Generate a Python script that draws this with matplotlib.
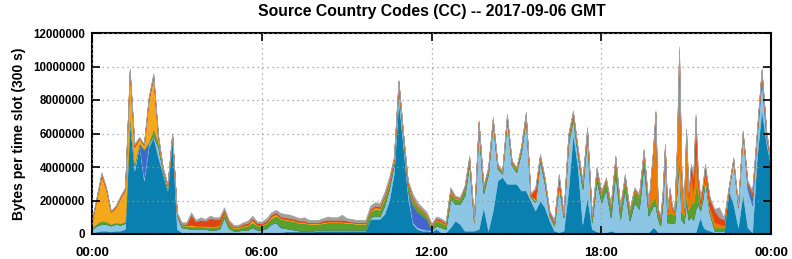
import numpy as np
import matplotlib
matplotlib.use("Agg")
import matplotlib.pyplot as plt
from matplotlib.ticker import FuncFormatter

# sample times in minutes after 00:00 (10-min samples, 5-min samples 19:50-21:35)
minutes = np.concatenate([np.arange(0, 1190, 10), np.arange(1190, 1300, 5), np.arange(1300, 1441, 10)])

# values in millions of bytes per time slot
dark_blue = [0.1,0.15,0.2,0.2,0.15,0.2,0.2,0.3,6.7,3.8,5.3,3.2,5.2,5.8,4.6,3.6,2.6,5.8,0.3,0.1,0.1,0.1,0.1,0.1,0.1,
             0.1,0.1,0.1,0.1,0.1,0.1,0.1,0.1,0.1,0.1,0.1,0.1,0.1,0.1,0.1,0.1,0.15,0.15,0.15,0.15,0.15,0.15,0.15,0.2,
             0.2,0.2,0.2,0.2,0.2,0.2,0.2,0.2,0.2,0.2,0.9,0.9,0.9,1.2,2.0,3.6,8.0,5.2,2.2,0.6,0.3,0.2,0.2,0.15,
             0.3,0.1,0.1,0.4,0.8,0.6,0.2,0.2,0.2,0.3,1.6,0.2,1.4,3.2,3.4,3.0,3.0,3.0,2.6,2.6,2.0,1.4,2.0,1.6,
             0.8,0.2,0.1,0.2,2.6,6.0,4.0,0.6,2.2,0.3,0.15,0.1,0.1,0.2,0.1,0.1,0.1,0.1,0.1,0.1,0.1,0.1,
             0.4,0.3,0.1,0.1,0.1,0.1,0.1,0.05,0.05,0.05,0.05,0.1,0.05,0.05,0.1,0.05,0.05,0.05,0.1,0.6,1.0,0.5,
             0.3,0.2,0.1,0.1,0.1,2.6,1.8,0.4,2.4,0.4,0.1,4.6,7.4,5.4,4.0]
light_blue = [0.2,0.35,0.4,0.4,0.35,0.4,0.35,0.35,0.3,0.3,0.1,0.2,0.2,0.1,0.6,0.2,0.1,0.1,0.8,0.3,0.25,0.2,0.2,0.2,0.2,
              0.15,0.15,0.2,0.9,0.25,0.1,0.1,0.15,0.15,0.3,0.15,0.15,0.25,0.5,0.6,0.3,0.2,0.15,0.1,0.05,0.05,0.05,0.05,0.05,
              0.05,0.05,0.05,0.05,0.05,0.05,0.05,0.05,0.05,0.05,0.1,0.2,0.15,0.5,0.7,0.5,0.8,0.5,0.4,0.1,0.1,0.1,0.05,0.1,
              0.2,0.3,0.2,1.7,1.0,1.2,2.1,4.0,0.5,6.0,0.85,3.4,5.2,0.7,0.2,3.8,1.1,0.7,2.3,4.3,0.2,0.5,2.4,1.4,
              0.3,0.3,2.8,0.8,2.8,0.9,0.7,2.1,3.6,0.4,3.1,1.8,2.6,0.8,3.6,0.8,2.6,0.7,1.8,1.4,4.1,1.0,
              1.3,1.4,0.8,0.4,1.8,4.6,0.6,0.6,0.6,0.6,2.5,4.4,0.8,0.6,1.8,0.8,1.0,0.8,1.4,1.2,0.4,1.6,
              2.9,1.0,0.1,0.1,0.1,0.05,2.6,1.2,3.6,2.3,1.6,1.2,1.8,0.3,0.1]
royal_blue = [0,0,0,0,0,0,0,0,0,0,0,1.6,0,0,0,0,0,0,0,0,0,0,0,0,0,
              0,0,0,0,0,0,0,0,0,0,0,0,0,0,0,0,0,0,0,0,0,0,0,0,
              0,0,0,0,0,0,0,0,0,0,0,0,0,0,0,0,0,0,0,1.0,0.9,0.8,0.6,0,
              0,0,0,0,0,0,0,0,0,0,0,0,0,0,0,0,0,0,0,0,0,0,0,0,
              0,0,0,0,0,0,0,0,0,0,0,0,0,0,0,0,0,0,0,0,0,0,
              0,0,0,0,0,0,0,0,0,0,0,0,0,0,0,0,0,0,0,0,0,0,
              0,0,0,0,0,0,0,0,0,0.3,0.5,0.2,0.4,0.3,0]
green = [0.1,0.15,0.2,0.15,0.1,0.1,0.1,0.1,0.1,0.1,0.05,0.1,0.1,0.4,0.3,0.1,0.05,0.05,0.1,0.1,0.15,0.15,0.15,0.15,0.15,
         0.15,0.15,0.2,0.3,0.25,0.15,0.15,0.2,0.25,0.3,0.25,0.25,0.3,0.35,0.4,0.5,0.5,0.5,0.5,0.45,0.45,0.4,0.4,0.35,
         0.4,0.45,0.45,0.45,0.45,0.4,0.4,0.35,0.35,0.35,0.35,0.4,0.4,0.4,0.3,0.2,0.2,0.1,0.3,0.3,0.3,0.25,0.2,0.2,
         0.3,0.3,0.25,0.4,0.3,0.25,0.4,0.3,0.1,0.3,0.3,0.2,0.2,0.15,0.1,0.2,0.15,0.15,0.2,0.2,0.05,0.1,0.2,0.2,
         0.1,0.1,0.2,0.1,0.3,0.3,0.3,0.3,0.35,0.3,0.5,0.5,0.5,0.6,0.7,0.6,0.7,0.5,0.7,0.7,0.7,0.5,
         0.4,0.5,0.4,0.4,0.4,0.5,0.5,0.6,0.6,0.5,0.6,0.5,0.5,0.5,0.5,0.6,0.8,1.0,1.4,0.8,0.3,0.4,
         0.3,0.2,0.2,0.2,0.2,0.05,0.05,0.05,0.05,0.05,0.1,0.05,0.1,0.05,0.0]
amber = [0.4,1.5,2.7,1.9,0.7,0.9,1.5,1.9,2.6,1.0,0.25,0.2,2.5,3.1,0.3,0.05,0.15,0,0,0.05,0.05,0.1,0.05,0.05,0.05,
         0.05,0.05,0.05,0.05,0.05,0.05,0.05,0.05,0.05,0.15,0.05,0.05,0.05,0.1,0.1,0.05,0.05,0.05,0.05,0.05,0.05,0.05,0.05,0.05,
         0.05,0.05,0.05,0.05,0.05,0.05,0.05,0.05,0.05,0.05,0.05,0.1,0.1,0.1,0.1,0.1,0.1,0.1,0.1,0.1,0.05,0.05,0.05,0.05,
         0.05,0.05,0.05,0.1,0.05,0.05,0.05,0.05,0.05,0.1,0.05,0.05,0.05,0.05,0.05,0.05,0.05,0.05,0.05,0.05,0.05,0.1,0.05,0.05,
         0.05,0.05,0.05,0.05,0.1,0.05,0.05,0.05,0.05,0.05,0.05,0.05,0.05,0.05,0.1,0.05,0.05,0.05,0.05,0.05,0.05,0.05,
         0,0,0,0,0,0,0,0,0,0,0,0,0,0,0,0,0,0,0,0,0,0,
         0,0,0,0,0,0,0,0,0,0,0,0,0,0,0]
orange = [0,0,0,0,0,0,0,0,0,0,0,0,0,0,0,0,0,0,0,0,0,0,0,0,0,
          0,0,0,0,0,0,0,0,0,0,0,0,0,0,0,0,0,0,0,0,0,0,0,0,
          0,0,0,0,0,0,0,0,0,0,0,0,0,0,0,0,0,0,0,0,0,0,0,0,
          0,0,0,0,0,0,0,0,0,0,0,0,0,0,0,0,0,0,0,0,0,0,0,0,
          0,0,0,0,0,0,0,0,0,0,0,0,0,0,0,0,0,0,0,0,0,0,
          2.9,5.0,0.1,0,0,0,0.1,1.35,0.25,0.15,1.65,5.8,2.25,0.25,3.7,0.75,1.75,0.75,1.8,0.4,0.1,0.1,
          0.2,0.2,0.3,0.2,0.1,0,0,0,0,0,0,0,0,0,0]
red = [0.05,0.05,0.1,0.05,0.05,0.05,0.05,0.05,0.1,0.1,0.05,0.05,0.1,0.1,0.1,0,0.05,0,0,0.05,0.05,0.6,0.25,0.35,0.3,
       0.5,0.45,0.35,0.1,0.1,0.05,0.05,0.1,0.1,0.1,0.1,0.1,0.1,0.1,0.1,0.1,0.1,0.1,0.1,0.1,0.1,0.05,0.05,0.05,
       0.1,0.1,0.1,0.1,0.1,0.1,0.05,0.05,0.05,0.05,0.1,0.1,0.1,0.1,0.1,0.1,0.05,0.05,0.1,0.1,0.05,0.05,0.05,0.05,
       0.1,0.1,0.05,0.1,0.05,0.05,0.05,0.05,0,0,0.05,0.05,0.05,0.05,0,0.05,0.05,0.05,0.05,0.05,0.05,0.6,0.05,0.05,
       0.1,0.1,0.35,0.05,0.1,0.05,0.05,0.05,0.1,0.05,0.1,0.05,0.05,0.05,0.1,0.05,0.05,0.05,0.05,0.05,0.05,0.05,
       0.1,0.1,0.1,0.1,0.1,0.1,0.1,0.1,0.1,0.1,0.1,0.2,0.1,0.1,0.1,0.2,0.5,0.8,2.3,0.5,0.3,0.3,
       0.4,0.5,0.7,0.4,0.35,0.05,0.05,0.05,0.05,0.05,0.2,0.05,0.1,0.05,0.0]
grey = [0.05,0.1,0.1,0.1,0.05,0.05,0.1,0.1,0.1,0.1,0.05,0.05,0.1,0.1,0.1,0.05,0.05,0.05,0.1,0.1,0.1,0.15,0.1,0.15,0.1,
        0.15,0.1,0.1,0.15,0.1,0.1,0.1,0.1,0.15,0.15,0.1,0.1,0.15,0.15,0.15,0.2,0.2,0.2,0.15,0.15,0.2,0.15,0.15,0.15,
        0.15,0.2,0.15,0.15,0.3,0.15,0.15,0.15,0.15,0.15,0.2,0.2,0.2,0.2,0.2,0.1,0.05,0.05,0.1,0.2,0.2,0.15,0.15,0.1,
        0.1,0.1,0.1,0.1,0.1,0.05,0.1,0.1,0.1,0.1,0.1,0.1,0.1,0.05,0.05,0.1,0.05,0.05,0.1,0.1,0.05,0.1,0.1,0.1,
        0.05,0.1,0.1,0.1,0.1,0.1,0.1,0.1,0.1,0.1,0.1,0.1,0.1,0.1,0.1,0.1,0.1,0.1,0.1,0.1,0.1,0.1,
        0.1,0.1,0.1,0.1,0.1,0.1,0.1,0.1,0.1,0.1,0.1,0.2,0.1,0.1,0.1,0.1,0.1,0.1,0.2,0.1,0.1,0.1,
        0.1,0.1,0.1,0.6,0.1,0.05,0.1,0.1,0.1,0.1,0.1,0.1,0.1,0.1,0.1]

series = [dark_blue, light_blue, royal_blue, green, amber, orange, red, grey]
colors = ["#0a80b0", "#8cc6e4", "#4466cc", "#5aa02c", "#f5a81c", "#ee7a00", "#e04410", "#a0a0a0"]
hour_ticks = [0, 6, 12, 18, 24]
hour_labels = ["00:00", "06:00", "12:00", "18:00", "00:00"]
y_ticks = [0, 2000000, 4000000, 6000000, 8000000, 10000000, 12000000]

for s in series:
    assert len(s) == len(minutes), (len(s), len(minutes))
t = minutes / 60.0
data = [np.array(s) * 1e6 for s in series]

plt.rcParams['font.family'] = ['Liberation Sans', 'DejaVu Sans']
plt.rcParams['font.weight'] = 'bold'

fig = plt.figure(figsize=(7.92, 2.59), dpi=100)
ax = fig.add_axes([92/792, 25/259, (771-92)/792, (234-33)/259])
polys = ax.stackplot(t, *data, colors=colors, linewidth=0.4)
for p, c in zip(polys, colors):
    p.set_edgecolor(c)

ax.set_xlim(0, 24)
ax.set_ylim(0, 12e6)
ax.set_xticks(hour_ticks)
ax.set_xticklabels(hour_labels)
ax.set_yticks(y_ticks)
ax.yaxis.set_major_formatter(FuncFormatter(lambda v, p: "%d" % v))
ax.tick_params(direction='in', length=6, width=1.2, top=True, right=True, labelsize=8.3, pad=5)
ax.tick_params(axis='x', labelsize=9.5, pad=9)
for lab in ax.get_xticklabels() + ax.get_yticklabels():
    lab.set_fontweight('bold')
ax.grid(True, linestyle=(0, (1, 3)), color='#999999', linewidth=0.9)
ax.set_axisbelow(False)
for s in ax.spines.values():
    s.set_linewidth(1.5)
ax.set_title("Source Country Codes (CC) -- 2017-09-06 GMT", fontsize=11.3, fontweight='bold', pad=12)
ax.set_ylabel("Bytes per time slot (300 s)", fontsize=10, fontweight='bold', labelpad=5)

fig.savefig("out.png", dpi=100)
